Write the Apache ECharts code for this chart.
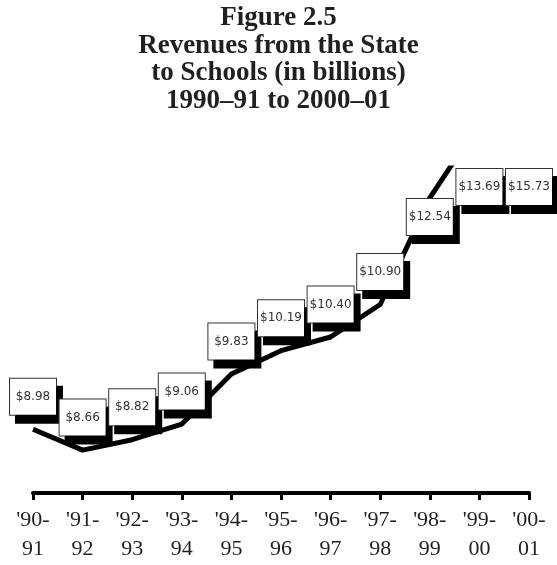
<!DOCTYPE html>
<html>
<head>
<meta charset="utf-8">
<script src="https://cdn.jsdelivr.net/npm/echarts@6/dist/echarts.min.js"></script>
<style>
  html, body { margin: 0; padding: 0; background: #fff; }
  #chart { width: 557px; height: 565px; }
</style>
</head>
<body>
<div id="chart"></div>
<script>
// School years on the category axis
const years = ["'90-91", "'91-92", "'92-93", "'93-94", "'94-95", "'95-96",
               "'96-97", "'97-98", "'98-99", "'99-00", "'00-01"];
// State revenues to schools, billions of dollars
const revenues = [8.98, 8.66, 8.82, 9.06, 9.83, 10.19, 10.40, 10.90, 12.54, 13.69, 15.73];

const titleLines = ['Figure 2.5', 'Revenues from the State', 'to Schools (in billions)', '1990\u201391 to 2000\u201301'];

const GRID_TOP = 168;

const chart = echarts.init(document.getElementById('chart'), null, { renderer: 'canvas' });

chart.setOption({
  animation: false,
  backgroundColor: '#ffffff',
  title: {
    text: titleLines.join('\n'),
    left: 'center',
    top: -1,
    textStyle: {
      fontFamily: 'Liberation Serif',
      fontWeight: 'bold',
      fontSize: 27,
      lineHeight: 27.7,
      color: '#231f20'
    }
  },
  grid: { left: 33, right: 28, top: GRID_TOP, bottom: 72 },
  xAxis: {
    type: 'category',
    data: years,
    boundaryGap: false,
    axisLine: { lineStyle: { color: '#000', width: 4 } },
    axisTick: { show: true, length: 7, lineStyle: { color: '#000', width: 3 } },
    axisLabel: {
      margin: 13,
      fontFamily: 'Liberation Serif',
      fontSize: 22,
      lineHeight: 29,
      color: '#231f20',
      interval: 0,
      // break each school year after the hyphen: '90- / 91
      formatter: function (v) {
        const i = v.indexOf('-') + 1;
        return v.slice(0, i) + '\n' + v.slice(i);
      }
    },
    splitLine: { show: false }
  },
  yAxis: {
    type: 'value',
    min: 8,
    max: 13,
    show: false
  },
  series: [
    {
      type: 'line',
      data: revenues,
      clip: true,
      symbol: 'none',
      lineStyle: { color: '#000', width: 5, join: 'round' },
      z: 2
    },
    {
      // carrier for the value boxes; not clipped so every year gets a label
      type: 'scatter',
      data: revenues,
      clip: false,
      symbolSize: 1,
      itemStyle: { color: 'rgba(0,0,0,0)', opacity: 1 },
      z: 3,
      label: {
        show: true,
        position: 'top',
        distance: 14,
        opacity: 1,
        formatter: function (p) { return '$' + p.value.toFixed(2); },
        fontFamily: 'DejaVu Sans',
        fontSize: 12,
        color: '#333',
        width: 36,
        overflow: 'none',
        align: 'center',
        backgroundColor: '#fff',
        borderColor: '#333',
        borderWidth: 1,
        padding: [12, 5],
        shadowColor: '#000',
        shadowBlur: 0,
        shadowOffsetX: 6,
        shadowOffsetY: 8
      },
      // boxes that would poke above the plot hang from their point instead,
      // and never rise above the plot top
      labelLayout: function (params) {
        const lr = params.labelRect;
        if (lr.y >= GRID_TOP) return {};
        const py = params.rect.y + params.rect.height / 2;
        const target = Math.max(py, GRID_TOP);
        return { dy: target - lr.y };
      }
    }
  ]
});
</script>
</body>
</html>
